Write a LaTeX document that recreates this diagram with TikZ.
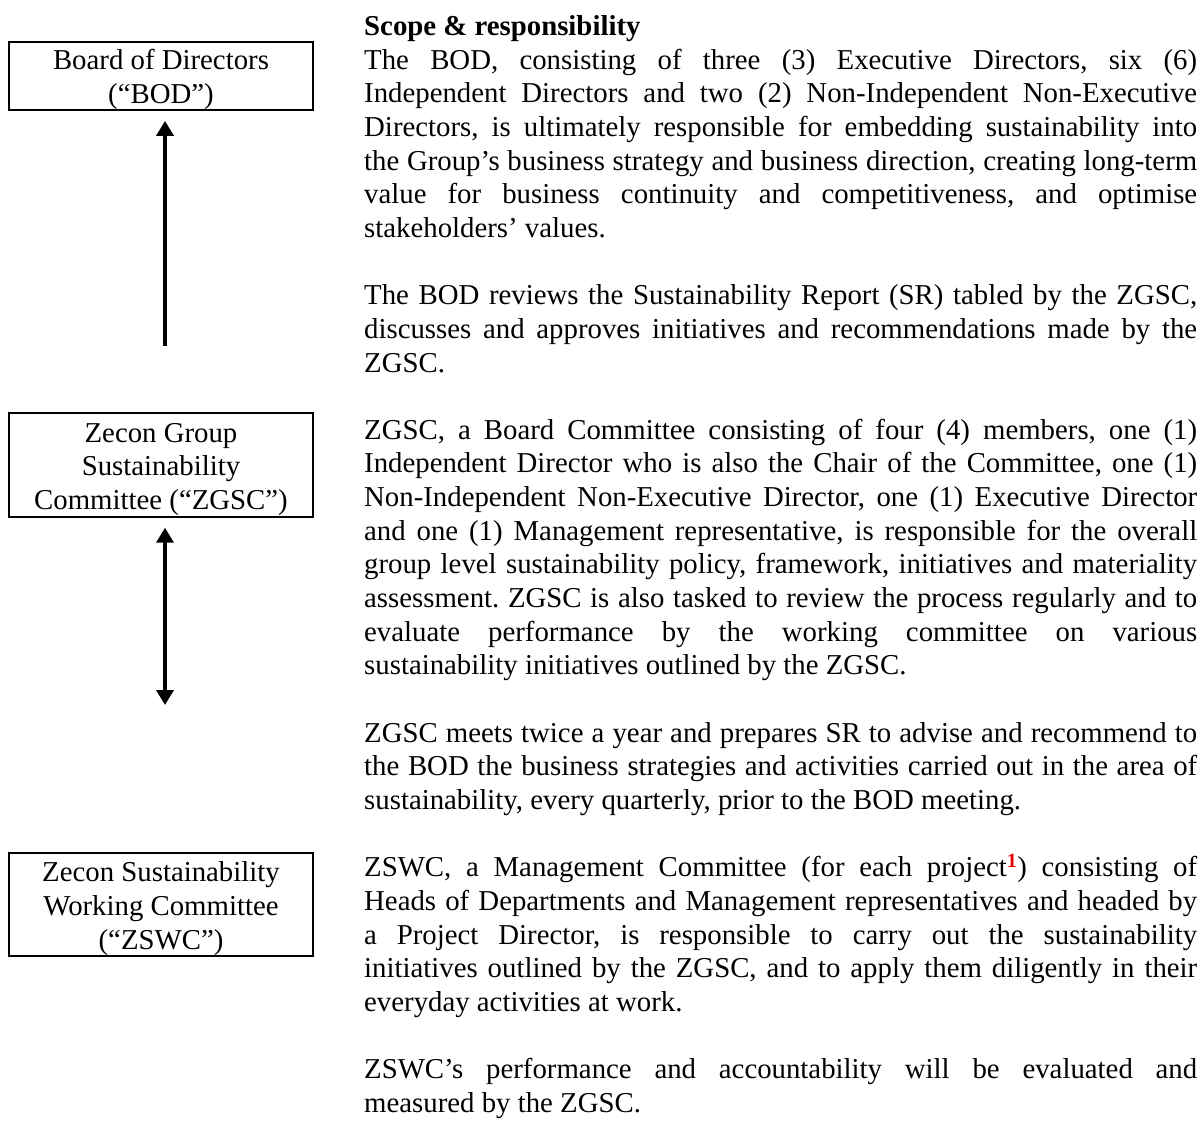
\documentclass[tikz,border=0pt]{standalone}
\usepackage{fontspec}
\setmainfont{Liberation Serif}
\usetikzlibrary{arrows.meta}
\newcommand{\boxlines}[1]{\raisebox{-4pt}[\height][\depth]{\begin{tabular}{@{}c@{}}#1\end{tabular}}}
\begin{document}
\begin{tikzpicture}[x=1pt,y=-1pt,
  box/.style={draw,line width=2pt,minimum width=303.4pt,inner sep=0pt,
    font=\fontsize{28.8pt}{33.6pt}\selectfont},
  arr/.style={line width=4.2pt,-{Triangle[length=15pt,width=17pt]}},
  darr/.style={line width=4.2pt,{Triangle[length=15pt,width=17pt]}-{Triangle[length=15pt,width=17pt]}}]
\useasboundingbox (0,0) rectangle (1203,1122);
\node[box,minimum height=68.3pt] (bod) at (161,75.8) {\boxlines{Board of Directors\\(“BOD”)}};
\node[box,minimum height=103.4pt] (zgsc) at (161,465) {\boxlines{Zecon Group\\Sustainability\\Committee (“ZGSC”)}};
\node[box,minimum height=102.7pt] (zswc) at (161,904.7) {\boxlines{Zecon Sustainability\\Working Committee\\(“ZSWC”)}};
\coordinate (a1) at (165,346);
\coordinate (a2) at (165,705);
\draw[arr,shorten >=10pt] (a1) -- (a1 |- bod.south);
\draw[darr,shorten >=10pt] (a2) -- (a2 |- zgsc.south);
\node[anchor=base west,inner sep=0pt] (txt) at (364,35.5) {\begin{minipage}[t]{833pt}%
\fontsize{28.8pt}{33.65pt}\selectfont\frenchspacing
\lineskiplimit=-\maxdimen\parindent=0pt\parskip=33.65pt
\hyphenpenalty=10000\exhyphenpenalty=10000\tolerance=10000\hbadness=10000
\textbf{Scope \& responsibility}\newline
The BOD, consisting of three (3) Executive Directors, six (6)\linebreak
Independent Directors and two (2) Non-Independent Non-Executive\linebreak
Directors, is ultimately responsible for embedding sustainability into\linebreak
the Group’s business strategy and business direction, creating long-term\linebreak
value for business continuity and competitiveness, and optimise\linebreak
stakeholders’ values.\par
The BOD reviews the Sustainability Report (SR) tabled by the ZGSC,\linebreak
discusses and approves initiatives and recommendations made by the\linebreak
ZGSC.\par
ZGSC, a Board Committee consisting of four (4) members, one (1)\linebreak
Independent Director who is also the Chair of the Committee, one (1)\linebreak
Non-Independent Non-Executive Director, one (1) Executive Director\linebreak
and one (1) Management representative, is responsible for the overall\linebreak
group level sustainability policy, framework, initiatives and materiality\linebreak
assessment. ZGSC is also tasked to review the process regularly and to\linebreak
evaluate performance by the working committee on various\linebreak
sustainability initiatives outlined by the ZGSC.\par
ZGSC meets twice a year and prepares SR to advise and recommend to\linebreak
the BOD the business strategies and activities carried out in the area of\linebreak
sustainability, every quarterly, prior to the BOD meeting.\par
ZSWC, a Management Committee (for each project\textsuperscript{\textcolor[RGB]{230,0,0}{\textbf{1}}}) consisting of\linebreak
Heads of Departments and Management representatives and headed by\linebreak
a Project Director, is responsible to carry out the sustainability\linebreak
initiatives outlined by the ZGSC, and to apply them diligently in their\linebreak
everyday activities at work.\par
ZSWC’s performance and accountability will be evaluated and\linebreak
measured by the ZGSC.
\end{minipage}};
\end{tikzpicture}
\end{document}
